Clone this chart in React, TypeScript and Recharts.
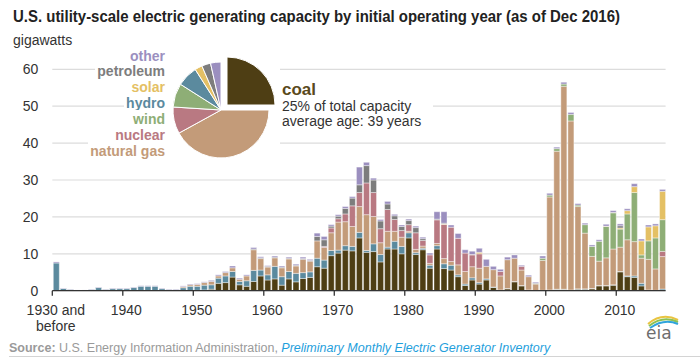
import React from 'react';
import { BarChart, Bar, XAxis, YAxis, CartesianGrid, PieChart, Pie, Cell } from 'recharts';

// initial operating year ("1930" = 1930 and before)
const years = Array.from({ length: 87 }, (_, i) => 1930 + i);

// gigawatts by year, 1930 .. 2016 (one line per decade)
const coal = [
  0, 0, 0, 0, 0, 0, 0, 0, 0, 0,
  0, 0, 0, 0, 0, 0, 0, 0, 0, 0,
  0.1, 0.2, 0.4, 2.0, 2.2, 3.7, 1.6, 1.2, 2.5, 4.0,
  2.9, 3.2, 1.5, 3.2, 2.4, 3.3, 3.6, 6.5, 6.1, 9.5,
  10.2, 11.0, 10.8, 14.3, 10.4, 10.6, 7.8, 11.3, 11.3, 10.0,
  14.3, 9.8, 11.1, 6.1, 11.3, 6.0, 5.6, 3.8, 1.4, 2.9,
  1.8, 2.9, 0.9, 0.1, 0.5, 2.4, 1.3, 0.2, 0, 0,
  0.1, 0.3, 0.3, 0.1, 0.4, 0.4, 0.5, 1.3, 1.3, 1.5,
  5.1, 3.8, 3.6, 1.3, 0.1, 0, 0,
];
const hydro = [
  7.5, 0.6, 0.35, 0.15, 0.15, 0.35, 0.85, 0.35, 0.55, 0.55,
  0.55, 0.85, 1.2, 1.2, 1.2, 0.55, 0.3, 0.3, 0.8, 1.2,
  1.1, 1.3, 1.2, 1.4, 1.8, 1.5, 0.9, 1.5, 3.0, 1.6,
  1.4, 3.4, 2.3, 2.0, 2.3, 1.6, 1.5, 2.3, 2.2, 1.4,
  0.8, 1.2, 1.2, 1.5, 0.5, 2.1, 2.0, 0.5, 2.1, 2.0,
  1.4, 0.5, 0.4, 0.8, 0.9, 1.3, 1.3, 0.5, 0.4, 0.6,
  0.4, 0.3, 0.1, 0.1, 0.1, 0.1, 0.1, 0, 0, 0.1,
  0.1, 0.1, 0.1, 0.1, 0.1, 0.1, 0.1, 0.1, 0.1, 0.1,
  0.1, 0.2, 0.4, 0.7, 0.1, 0.1, 0.45,
];
const naturalGas = [
  0, 0, 0, 0, 0, 0, 0, 0, 0, 0,
  0, 0, 0, 0, 0, 0, 0, 0, 0.3, 0.4,
  0.5, 0.7, 0.9, 0.6, 0.9, 1.0, 0.6, 1.3, 5.6, 3.1,
  2.1, 2.3, 2.4, 3.4, 2.0, 3.6, 2.9, 4.7, 3.4, 4.8,
  7.6, 6.5, 5.4, 7.0, 9.7, 7.4, 3.2, 4.3, 2.7, 2.5,
  0.4, 0.9, 0.6, 0.5, 0.6, 1.4, 1.0, 2.7, 3.4, 3.0,
  3.9, 3.4, 4.7, 3.8, 7.8, 6.3, 4.2, 3.6, 1.8, 8.1,
  25.2, 37.4, 55.0, 45.8, 22.3, 15.1, 8.7, 6.6, 7.5, 9.7,
  6.6, 9.8, 9.3, 6.8, 8.3, 5.8, 8.8,
];
const nuclear = [
  0, 0, 0, 0, 0, 0, 0, 0, 0, 0,
  0, 0, 0, 0, 0, 0, 0, 0, 0, 0,
  0, 0, 0, 0, 0, 0, 0, 0, 0, 0,
  0, 0, 0, 0, 0, 0, 0, 0, 0.3, 1.3,
  0.9, 2.1, 5.6, 3.8, 8.6, 6.5, 3.8, 5.9, 3.2, 1.8,
  1.8, 4.5, 1.5, 2.3, 6.4, 9.3, 9.3, 7.2, 5.0, 3.2,
  3.9, 0, 0, 1.2, 0, 0, 1.0, 0, 0, 0,
  0, 0, 0, 0, 0, 0, 0, 0, 0, 0,
  0, 0, 0, 0, 0, 0, 1.4,
];
const wind = [
  0, 0, 0, 0, 0, 0, 0, 0, 0, 0,
  0, 0, 0, 0, 0, 0, 0, 0, 0, 0,
  0, 0, 0, 0, 0, 0, 0, 0, 0, 0,
  0, 0, 0, 0, 0, 0, 0, 0, 0, 0,
  0, 0, 0, 0, 0, 0, 0, 0, 0, 0,
  0, 0, 0, 0, 0, 0, 0, 0, 0, 0,
  0, 0, 0, 0, 0, 0, 0, 0, 0.2, 0.6,
  0.5, 0.7, 0.6, 1.8, 0.4, 2.3, 2.7, 5.4, 8.5, 9.8,
  4.9, 7.0, 13.3, 0.9, 5.0, 8.4, 8.6,
];
const solar = [
  0, 0, 0, 0, 0, 0, 0, 0, 0, 0,
  0, 0, 0, 0, 0, 0, 0, 0, 0, 0,
  0, 0, 0, 0, 0, 0, 0, 0, 0, 0,
  0, 0, 0, 0, 0, 0, 0, 0, 0, 0,
  0, 0, 0, 0, 0, 0, 0, 0, 0, 0,
  0, 0, 0, 0, 0, 0.1, 0, 0, 0, 0.1,
  0.4, 0, 0, 0, 0, 0, 0, 0, 0, 0,
  0, 0, 0, 0, 0, 0, 0, 0, 0.1, 0.1,
  0.3, 0.9, 1.6, 3.8, 3.8, 3.3, 7.7,
];
const petroleum = [
  0, 0, 0, 0, 0, 0, 0, 0, 0, 0,
  0, 0, 0, 0, 0, 0, 0, 0, 0, 0,
  0, 0, 0, 0, 0, 0, 0, 0, 0.2, 0.2,
  0.2, 0.2, 0.2, 0.2, 0.2, 0.2, 0.2, 1.2, 1.8, 0.5,
  0.7, 1.5, 2.1, 2.1, 4.7, 3.4, 2.1, 1.5, 1.0, 1.1,
  1.1, 1.4, 0.5, 0, 0.2, 0.2, 0, 0, 0, 0,
  0, 0, 0, 0, 0, 0, 0, 0, 0, 0,
  0, 0, 0, 0, 0, 0, 0, 0, 0, 0,
  0.6, 0, 0, 0, 0, 0, 0,
];
const other = [
  0.3, 0.1, 0.1, 0.05, 0.05, 0.1, 0.15, 0.1, 0.15, 0.15,
  0.15, 0.15, 0.15, 0.15, 0.15, 0.15, 0.15, 0.15, 0.2, 0.2,
  0.2, 0.2, 0.3, 0.3, 0.3, 0.5, 0.3, 0.3, 0.4, 0.3,
  0.2, 0.3, 0.3, 0.3, 0.3, 0.4, 0.3, 0.9, 0.9, 0.4,
  0.4, 0.5, 0.4, 4.8, 0.9, 0.5, 0.4, 0.7, 0.4, 0.4,
  0.4, 0.4, 0.4, 0.5, 2.0, 3.1, 0.6, 1.3, 0.9, 0.9,
  1.1, 1.9, 0.9, 0.6, 0.7, 0.9, 0.3, 0.4, 0.3, 0.6,
  0.5, 0.4, 0.5, 0.5, 0.4, 0.4, 0.4, 0.4, 0.5, 0.5,
  0.5, 0.5, 0.8, 0.5, 0.5, 0.5, 0.5,
];

// share of total capacity, clockwise from 12 o'clock
const pieNames = ['coal', 'natural gas', 'nuclear', 'wind', 'hydro', 'solar', 'petroleum', 'other'];
const pieShares = [25, 42, 9, 8, 7, 2.5, 3, 3.5];

const legendOrder = ['other', 'petroleum', 'solar', 'hydro', 'wind', 'nuclear', 'natural gas'];

const xTickYears = [1930, 1940, 1950, 1960, 1970, 1980, 1990, 2000, 2010];
const xTickLabels = ['1930 and|before', '1940', '1950', '1960', '1970', '1980', '1990', '2000', '2010'];
const yTicks = [0, 10, 20, 30, 40, 50, 60];

const COLORS: Record<string, string> = {
  coal: '#4e3e14',
  hydro: '#5b8a9e',
  'natural gas': '#c39b79',
  nuclear: '#b97982',
  wind: '#8eae76',
  solar: '#e4c064',
  petroleum: '#7d7d7d',
  other: '#9b8fbf',
};

const series = [
  { key: 'coal', values: coal },
  { key: 'hydro', values: hydro },
  { key: 'natural gas', values: naturalGas },
  { key: 'nuclear', values: nuclear },
  { key: 'wind', values: wind },
  { key: 'solar', values: solar },
  { key: 'petroleum', values: petroleum },
  { key: 'other', values: other },
];

const data = years.map((year, i) => {
  const row: Record<string, number> = { year };
  series.forEach((s) => { row[s.key] = s.values[i]; });
  return row;
});

const pieData = pieNames.map((name, i) => ({ name, value: pieShares[i] }));

const FONT = '"Liberation Sans", Arial, sans-serif';
const HALF_BAND = 3.5;

function XTick(props: any) {
  const { x, y, payload } = props;
  const idx = xTickYears.indexOf(payload.value + 0.5);
  const lines = (xTickLabels[idx] ?? '').split('|');
  return (
    <text x={x + HALF_BAND} y={y + 15} textAnchor="middle" fontSize={14} fill="#333" fontFamily={FONT}>
      {lines.map((l, i) => (
        <tspan key={i} x={x + HALF_BAND} dy={i === 0 ? 0 : 16.5}>{l}</tspan>
      ))}
    </text>
  );
}

export default function App() {
  return (
    <div style={{ position: 'relative', width: 700, height: 363, background: '#fff', fontFamily: FONT, overflow: 'hidden' }}>
      <style>{'body{margin:0}'}</style>

      <div style={{ position: 'absolute', left: 0, top: 0 }}>
        <BarChart width={700} height={363} data={data} margin={{ top: 69.3, right: 34.4, left: 0.3, bottom: 32.3 }}>
          <CartesianGrid vertical={false} stroke="#dcdcdc" strokeWidth={1.2} />
          <XAxis
            dataKey="year"
            type="number"
            domain={[1929.5, 2016.5]}
            ticks={xTickYears.map((t) => t - 0.5)}
            interval={0}
            height={40}
            tickSize={5}
            tickMargin={4}
            axisLine={{ stroke: '#333', strokeWidth: 1.3 }}
            tickLine={{ stroke: '#333', strokeWidth: 1.3 }}
            tick={(p: any) => <XTick {...p} />}
          />
          <YAxis
            type="number"
            domain={[0, 60]}
            ticks={yTicks}
            width={52}
            tickSize={0}
            tickMargin={14}
            axisLine={false}
            tickLine={false}
            tick={{ fontSize: 14, fill: '#333', fontFamily: FONT }}
          />
          {series.map((s) => (
            <Bar
              key={s.key}
              dataKey={s.key}
              stackId="a"
              fill={COLORS[s.key]}
              barSize={6}
              stroke="#ffffff"
              strokeWidth={0.4}
              isAnimationActive={false}
            />
          ))}
        </BarChart>
      </div>

      {/* title */}
      <div style={{ position: 'absolute', left: 13, top: 8, fontSize: 16, fontWeight: 'bold', color: '#222', whiteSpace: 'nowrap', transform: 'scaleX(0.935)', transformOrigin: 'left top' }}>
        U.S. utility-scale electric generating capacity by initial operating year (as of Dec 2016)
      </div>
      <div style={{ position: 'absolute', left: 13, top: 32, fontSize: 14, color: '#333', whiteSpace: 'nowrap' }}>
        gigawatts
      </div>

      {/* legend labels */}
      <div style={{ position: 'absolute', right: 700 - 167, top: 48.5, textAlign: 'right', fontSize: 14, fontWeight: 'bold', lineHeight: '15.9px' }}>
        {legendOrder.map((name) => (
          <div key={name}>
            <span style={{ color: COLORS[name], background: '#fff', padding: '1px 2px' }}>{name}</span>
          </div>
        ))}
      </div>

      {/* pie */}
      <div style={{ position: 'absolute', left: 167, top: 52, width: 113, height: 110, background: '#fff' }}>
        <PieChart width={113} height={110} margin={{ top: 0, right: 0, bottom: 0, left: 0 }}>
          <Pie data={pieData} dataKey="value" cx={54} cy={58} outerRadius={48} startAngle={90} endAngle={-270} stroke="#fff" strokeWidth={1} isAnimationActive={false}>
            {pieData.map((d) => (
              <Cell key={d.name} fill={d.name === 'coal' ? 'none' : COLORS[d.name]} stroke={d.name === 'coal' ? 'none' : '#fff'} />
            ))}
          </Pie>
          <Pie data={pieData} dataKey="value" cx={60} cy={53} outerRadius={48} startAngle={90} endAngle={-270} stroke="#fff" strokeWidth={1} isAnimationActive={false}>
            {pieData.map((d) => (
              <Cell key={d.name} fill={d.name === 'coal' ? COLORS.coal : 'none'} stroke={d.name === 'coal' ? '#fff' : 'none'} />
            ))}
          </Pie>
        </PieChart>
      </div>

      {/* coal annotation */}
      <div style={{ position: 'absolute', left: 276, top: 79, width: 157, height: 50, background: '#fff' }} />
      <div style={{ position: 'absolute', left: 282, top: 82, fontSize: 17, fontWeight: 'bold', color: '#5a4a1c', lineHeight: '16px' }}>coal</div>
      <div style={{ position: 'absolute', left: 282, top: 98.5, fontSize: 14, color: '#333', lineHeight: '15px', whiteSpace: 'nowrap' }}>
        <div>25% of total capacity</div>
        <div>average age: 39 years</div>
      </div>

      {/* source */}
      <div style={{ position: 'absolute', left: 9, top: 341, fontSize: 12.5, color: '#9a9a9a', whiteSpace: 'nowrap', lineHeight: '14px' }}>
        <b>Source:</b> U.S. Energy Information Administration,{' '}
        <i style={{ color: '#1fa0dc' }}>Preliminary Monthly Electric Generator Inventory</i>
      </div>
      <div style={{ position: 'absolute', left: 9, top: 356, width: 691, height: 1, background: '#d4d4d4' }} />

      {/* eia logo */}
      <svg style={{ position: 'absolute', left: 642, top: 310 }} width={40} height={32}>
        <path d="M6 14 Q20 2 36 10" fill="none" stroke="#e8c441" strokeWidth={2} />
        <path d="M7 16 Q21 5 36 12" fill="none" stroke="#8cc152" strokeWidth={2} />
        <path d="M8 18 Q22 8 36 14" fill="none" stroke="#2fa4dc" strokeWidth={2} />
        <text x={4} y={29} fontSize={17} fill="#6d6d6d" fontFamily="DejaVu Sans, sans-serif">eia</text>
      </svg>
    </div>
  );
}
